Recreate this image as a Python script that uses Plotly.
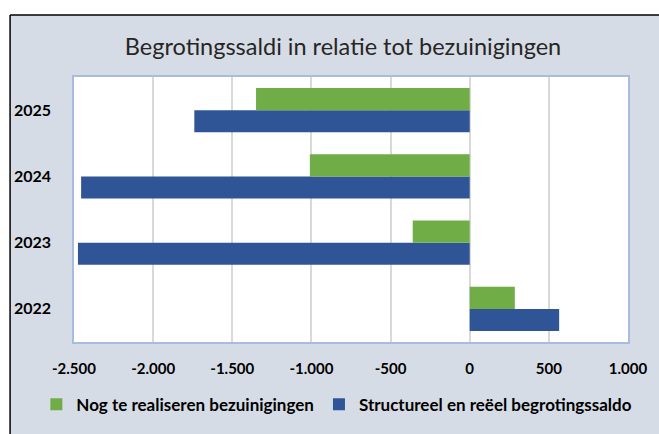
import plotly.graph_objects as go

years = ["2022", "2023", "2024", "2025"]
nog_te_realiseren = [285, -360, -1010, -1350]
structureel_saldo = [565, -2475, -2455, -1740]

tick_vals = [-2500, -2000, -1500, -1000, -500, 0, 500, 1000]
tick_text = ["-2.500", "-2.000", "-1.500", "-1.000", "-500", "0", "500", "1.000"]

W, H = 659, 434
L, R, T, B = 74, 26, 77, 86
pw, ph = W - L - R, H - T - B

def px(x):  # window pixel x -> paper x
    return (x - L) / pw

def py(y):  # window pixel y -> paper y
    return (H - B - y) / ph

FONT = "Lato"

fig = go.Figure()
fig.add_trace(go.Bar(
    y=years, x=structureel_saldo, orientation="h",
    name="Structureel en reëel begrotingssaldo",
    marker=dict(color="#2F5597", line=dict(width=0)),
))
fig.add_trace(go.Bar(
    y=years, x=nog_te_realiseren, orientation="h",
    name="Nog te realiseren bezuinigingen",
    marker=dict(color="#70AD47", line=dict(width=0)),
))

# white strips outside the chart frame, plus black frame lines
fig.add_shape(type="rect", xref="paper", yref="paper",
              x0=px(-5), x1=px(700), y0=py(13.5), y1=py(-5),
              fillcolor="white", line=dict(width=0), layer="above")
fig.add_shape(type="rect", xref="paper", yref="paper",
              x0=px(-5), x1=px(9.5), y0=py(450), y1=py(-5),
              fillcolor="white", line=dict(width=0), layer="above")
fig.add_shape(type="line", xref="paper", yref="paper",
              x0=px(9.5), x1=px(700), y0=py(13.5), y1=py(13.5),
              line=dict(color="black", width=1.5), layer="above")
fig.add_shape(type="line", xref="paper", yref="paper",
              x0=px(9.5), x1=px(9.5), y0=py(13.5), y1=py(450),
              line=dict(color="black", width=1.5), layer="above")

fig.update_layout(
    width=W, height=H,
    margin=dict(l=L, r=R, t=T, b=B),
    paper_bgcolor="#D6DCE5",
    plot_bgcolor="white",
    barmode="group",
    bargap=0.33,
    bargroupgap=0,
    title=dict(text="Begrotingssaldi in relatie tot bezuinigingen",
               x=343 / W, xanchor="center", y=1 - 47 / H,
               yanchor="middle",
               font=dict(family=FONT, size=23.5, color="#262626")),
    font=dict(family=FONT, color="black"),
    legend=dict(orientation="h", x=px(36), xanchor="left",
                y=py(412), yanchor="middle", traceorder="reversed",
                font=dict(family=FONT, size=17, color="black", weight="bold"),
                bgcolor="rgba(0,0,0,0)", itemwidth=30),
    showlegend=True,
)

fig.update_xaxes(range=[-2500, 1000], tickvals=tick_vals, ticktext=tick_text,
                 showgrid=True, gridcolor="#D9D9D9", gridwidth=1.5,
                 zeroline=False, showline=True, linecolor="#A9BCE0", linewidth=1.5,
                 mirror=True, ticks="", ticklabelstandoff=12,
                 tickfont=dict(family=FONT, size=15, color="black", weight="bold"))
fig.update_yaxes(type="category", categoryorder="array", categoryarray=years,
                 showgrid=False, zeroline=False, showline=True,
                 linecolor="#A9BCE0", linewidth=1.5, mirror=True, ticks="",
                 ticklabelstandoff=18,
                 tickfont=dict(family=FONT, size=16, color="black", weight="bold"))

fig.write_html(
    "out.html",
    config={"displayModeBar": False},
    post_script="document.body.style.margin='0';"
                "document.documentElement.style.overflow='hidden';",
)
